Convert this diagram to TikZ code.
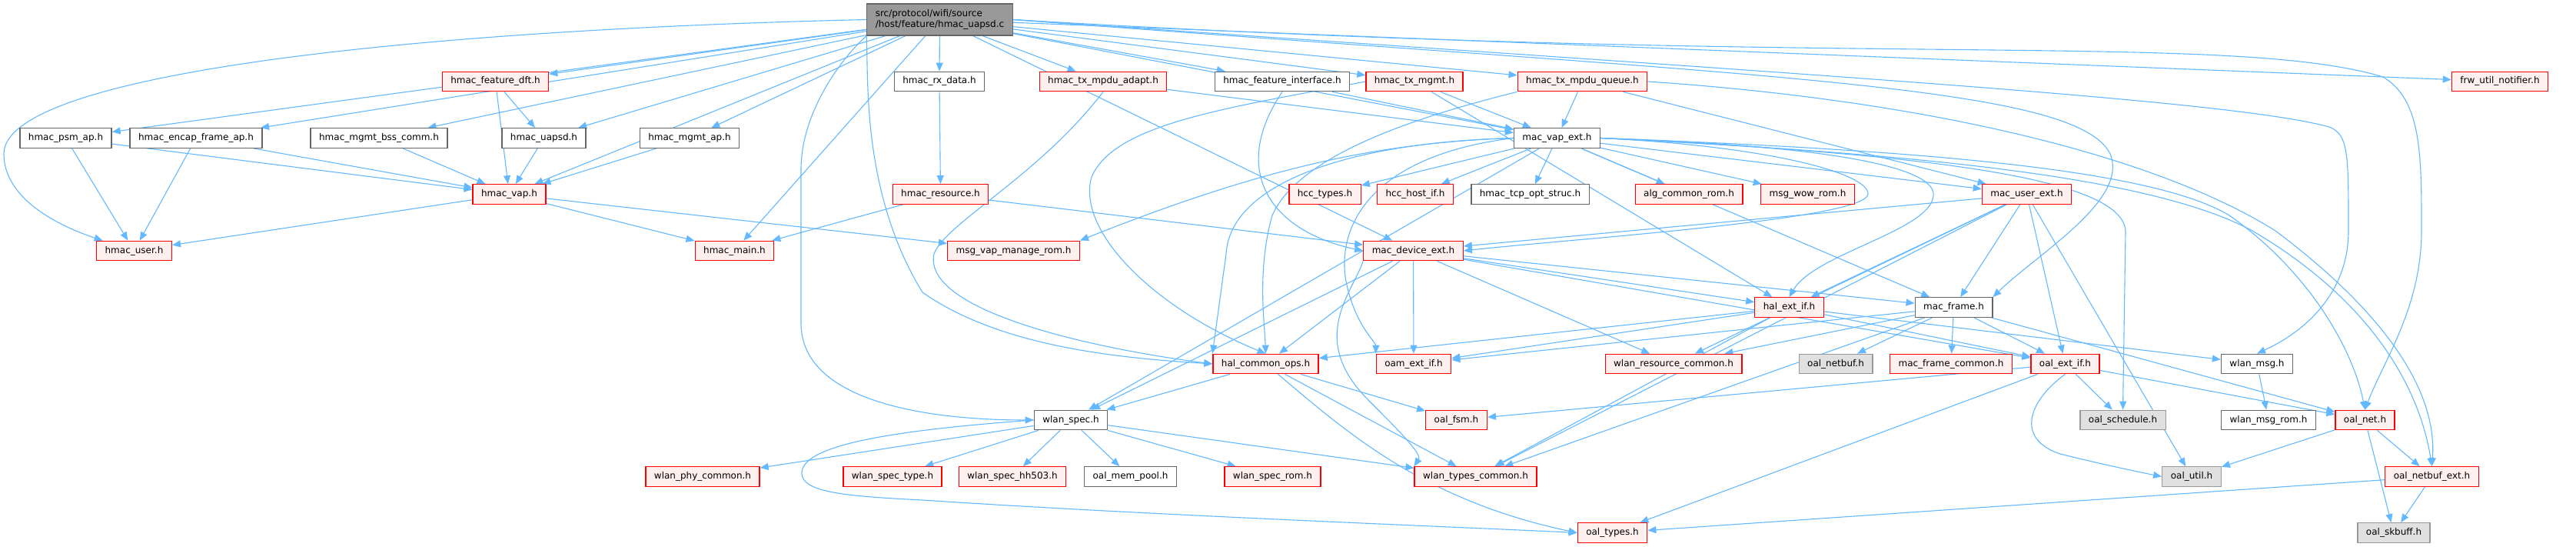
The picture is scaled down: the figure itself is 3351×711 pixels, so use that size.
\documentclass[tikz,border=0pt]{standalone}
\usepackage{fontspec}
\setmainfont{DejaVu Sans}
\usetikzlibrary{arrows.meta,backgrounds}
\definecolor{edgec}{HTML}{63B8FF}
\definecolor{rfill}{HTML}{FFF0F0}
\definecolor{gfill}{HTML}{E0E0E0}
\definecolor{dgray}{HTML}{666666}
\definecolor{lgray}{HTML}{999999}
\tikzset{
  nd/.style={rectangle, inner xsep=11pt, inner ysep=0pt, minimum height=25.5pt,
    text height=9pt, text depth=3pt, line width=1.3pt,
    font=\fontsize{12}{14}\selectfont},
  wn/.style={nd, draw=dgray, fill=white},
  rn/.style={nd, draw=red, fill=rfill},
  gn/.style={nd, draw=lgray, fill=gfill},
  rootn/.style={nd, draw=dgray, fill=lgray, align=left, minimum height=41pt, text height=, text depth=},
  e/.style={draw=edgec, line width=1.1pt, -{Triangle[length=11pt,width=9pt]}}
}
\begin{document}
\begin{tikzpicture}[x=1pt,y=-1pt]
\useasboundingbox (0,0) rectangle (3351,711);
% row 0
\node[rootn] (root) at (1222.5,25.5) {src/protocol/wifi/source\\/host/feature/hmac\_uapsd.c};
% row 1
\node[rn] (fdft) at (644.5,106) {hmac\_feature\_dft.h};
\node[wn] (rxdata) at (1222,106) {hmac\_rx\_data.h};
\node[rn] (txadapt) at (1435,106) {hmac\_tx\_mpdu\_adapt.h};
\node[wn] (finterface) at (1668,106) {hmac\_feature\_interface.h};
\node[rn] (txmgmt) at (1840,106) {hmac\_tx\_mgmt.h};
\node[rn] (txqueue) at (2058.5,106) {hmac\_tx\_mpdu\_queue.h};
\node[rn] (frw) at (3252,106) {frw\_util\_notifier.h};
% row 2
\node[wn] (psm) at (85.5,179.5) {hmac\_psm\_ap.h};
\node[wn] (encap) at (255,179.5) {hmac\_encap\_frame\_ap.h};
\node[wn] (bss) at (493,179.5) {hmac\_mgmt\_bss\_comm.h};
\node[wn] (uapsdh) at (707.5,179.5) {hmac\_uapsd.h};
\node[wn] (mgmtap) at (897,179.5) {hmac\_mgmt\_ap.h};
\node[wn] (macvap) at (2025.5,179.5) {mac\_vap\_ext.h};
% row 3
\node[rn] (hvap) at (662.5,252.5) {hmac\_vap.h};
\node[rn] (hres) at (1223.5,252.5) {hmac\_resource.h};
\node[rn] (hcctypes) at (1723.5,252.5) {hcc\_types.h};
\node[rn] (hcchost) at (1841,252.5) {hcc\_host\_if.h};
\node[wn] (tcp) at (1990.5,252.5) {hmac\_tcp\_opt\_struc.h};
\node[rn] (alg) at (2197,252.5) {alg\_common\_rom.h};
\node[rn] (wow) at (2351.5,252.5) {msg\_wow\_rom.h};
\node[rn] (macuser) at (2636.5,252.5) {mac\_user\_ext.h};
% row 4
\node[rn] (huser) at (174.5,326) {hmac\_user.h};
\node[rn] (hmain) at (955.5,326) {hmac\_main.h};
\node[rn] (msgvap) at (1318.5,326) {msg\_vap\_manage\_rom.h};
\node[rn] (macdev) at (1838.5,326) {mac\_device\_ext.h};
% row 5
\node[rn] (halext) at (2327.5,399.5) {hal\_ext\_if.h};
\node[wn] (macframe) at (2541.5,399.5) {mac\_frame.h};
% row 6
\node[rn] (halcommon) at (1646.5,473) {hal\_common\_ops.h};
\node[rn] (oamext) at (1839,473) {oam\_ext\_if.h};
\node[rn] (wlanres) at (2177,473) {wlan\_resource\_common.h};
\node[gn] (netbuf) at (2388,473) {oal\_netbuf.h};
\node[rn] (mfcommon) at (2538,473) {mac\_frame\_common.h};
\node[rn] (oalext) at (2686.5,473) {oal\_ext\_if.h};
\node[wn] (wlanmsg) at (2936,473) {wlan\_msg.h};
% row 7
\node[wn] (wlanspec) at (1393,546) {wlan\_spec.h};
\node[rn] (oalfsm) at (1894.5,546) {oal\_fsm.h};
\node[gn] (oalsched) at (2761.5,546) {oal\_schedule.h};
\node[wn] (msgrom) at (2951,546) {wlan\_msg\_rom.h};
\node[rn] (oalnet) at (3076.5,546) {oal\_net.h};
% row 8
\node[rn] (phy) at (914,619.5) {wlan\_phy\_common.h};
\node[rn] (spectype) at (1161,619.5) {wlan\_spec\_type.h};
\node[rn] (hh503) at (1317,619.5) {wlan\_spec\_hh503.h};
\node[wn] (mempool) at (1470.5,619.5) {oal\_mem\_pool.h};
\node[rn] (specrom) at (1655.5,619.5) {wlan\_spec\_rom.h};
\node[rn] (typescommon) at (1919.5,619.5) {wlan\_types\_common.h};
\node[gn] (oalutil) at (2851,619.5) {oal\_util.h};
\node[rn] (netbufext) at (3163.5,619.5) {oal\_netbuf\_ext.h};
% row 9
\node[rn] (oaltypes) at (2097.5,692.5) {oal\_types.h};
\node[gn] (skbuff) at (3114,692.5) {oal\_skbuff.h};

\begin{scope}[on background layer]
% curved edges
\draw[e] (root.west) .. controls (500,40) and (5,100) .. (5,200) .. controls (5,260) and (80,295) .. (huser);
\draw[e] (root.south west) .. controls (1090,80) and (1042,150) .. (1042,220) -- (1042,420) .. controls (1042,520) and (1200,546) .. (wlanspec.west);
\draw[e] (root.east) .. controls (2400,90) and (2900,40) .. (3100,100) .. controls (3150,130) and (3150,200) .. (3150,300) .. controls (3150,400) and (3100,470) .. (oalnet.north);
\draw[e] (root.east) .. controls (2400,100) and (2900,130) .. (3030,165) .. controls (3055,175) and (3055,200) .. (3055,300) .. controls (3055,380) and (3000,430) .. (wlanmsg.north);
\draw[e] (root.south west) .. controls (1130,100) and (1120,250) .. (1200,380) .. controls (1300,450) and (1450,465) .. (halcommon.west);
\draw[e] (root.east) .. controls (2300,100) and (2700,110) .. (2745,200) .. controls (2770,260) and (2650,330) .. (macframe.north east);
\draw[e] (wlanspec.west) .. controls (1150,560) and (1043,580) .. (1043,615) .. controls (1043,640) and (1100,645) .. (1200,650) .. controls (1500,670) and (1900,685) .. (oaltypes.west);
\draw[e] (txadapt.south) .. controls (1350,230) and (1230,290) .. (1215,330) .. controls (1200,400) and (1400,450) .. (halcommon.west);
\draw[e] (txmgmt.west) .. controls (1600,140) and (1450,160) .. (1420,230) .. controls (1400,300) and (1500,400) .. (halcommon.north);
\draw[e] (txqueue.south west) .. controls (1850,150) and (1690,200) .. (1655,280) .. controls (1635,350) and (1645,420) .. (halcommon.north);
\draw[e] (finterface.south) .. controls (1600,220) and (1650,300) .. (macdev.west);
\draw[e] (macvap.west) .. controls (1750,185) and (1600,240) .. (1595,330) -- (halcommon.north west);
\draw[e] (macvap.west) .. controls (1800,185) and (1650,215) .. (msgvap.north east);
\draw[e] (macvap.west) .. controls (1800,200) and (1740,280) .. (1750,360) .. controls (1760,420) and (1790,445) .. (oamext.north west);
\draw[e] (macvap.east) .. controls (2300,190) and (2430,225) .. (2430,252) .. controls (2430,285) and (2050,310) .. (macdev.east);
\draw[e] (macvap.east) .. controls (2400,190) and (2520,220) .. (2515,255) .. controls (2510,300) and (2360,330) .. (halext.north);
\draw[e] (macvap.east) .. controls (2500,195) and (2800,220) .. (2900,280) .. controls (3000,350) and (3060,450) .. (oalnet.north);
\draw[e] (macvap.east) .. controls (2500,200) and (2800,230) .. (2930,300) .. controls (3100,400) and (3150,520) .. (netbufext.north);
\draw[e] (txqueue.east) .. controls (2500,130) and (2800,200) .. (2960,300) .. controls (3120,420) and (3170,520) .. (netbufext.north);
\draw[e] (macvap.east) .. controls (2500,200) and (2760,230) .. (2765,300) -- (oalsched.north);
\draw[e] (oalext.south) .. controls (2640,520) and (2620,570) .. (2680,590) .. controls (2740,605) and (2790,615) .. (oalutil.west);
\draw[e] (halcommon) .. controls (1750,560) and (1850,650) .. (oaltypes.west);
\draw[e] (macdev.south west) .. controls (1760,380) and (1700,440) .. (1780,520) .. controls (1820,560) and (1850,590) .. (typescommon.north west);
% straight edges
\foreach \a/\b in {root/psm, root/encap, root/bss, root/fdft, root/uapsdh, root/hvap, root/mgmtap, root/hmain,
  root/rxdata, root/txadapt, root/finterface, root/txmgmt, root/txqueue, root/macvap, root/macdev, root/frw,
  psm/huser, psm/hvap, encap/huser, encap/hvap, bss/hvap, fdft/hvap, fdft/uapsdh, uapsdh/hvap, mgmtap/hvap,
  hvap/huser, hvap/hmain, hvap/msgvap, rxdata/hres, hres/hmain, hres/macdev,
  txadapt/macvap, finterface/macvap,
  txmgmt/macvap, txmgmt/halext, txqueue/macvap, txqueue/macuser,
  macvap/hcctypes, macvap/hcchost, macvap/tcp, macvap/alg, macvap/wow, macvap/macuser, macvap/macframe, macvap/wlanspec,
  macuser/macdev, macuser/halext, macuser/macframe, macuser/oalext, macuser/oalutil, macuser/wlanres, macuser/typescommon,
  macdev/wlanspec, macdev/halcommon, macdev/oamext, macdev/wlanres, macdev/halext, macdev/oalext, macdev/macframe,
  halext/halcommon, halext/oamext, halext/typescommon, halext/oalext, halext/wlanmsg,
  macframe/netbuf, macframe/mfcommon, macframe/oalext, macframe/oalnet, macframe/wlanres, macframe/oamext, macframe/typescommon,
  oalext/oalsched, oalext/oalnet, oalext/oalfsm, oalext/oaltypes,
  oalnet/oalutil, oalnet/netbufext, oalnet/skbuff, netbufext/skbuff, netbufext/oaltypes, wlanmsg/msgrom,
  wlanspec/phy, wlanspec/spectype, wlanspec/hh503, wlanspec/mempool, wlanspec/specrom, wlanspec/typescommon,
  halcommon/wlanspec, halcommon/oalfsm, halcommon/typescommon}
  \draw[e] (\a) -- (\b);
\end{scope}
\end{tikzpicture}
\end{document}
